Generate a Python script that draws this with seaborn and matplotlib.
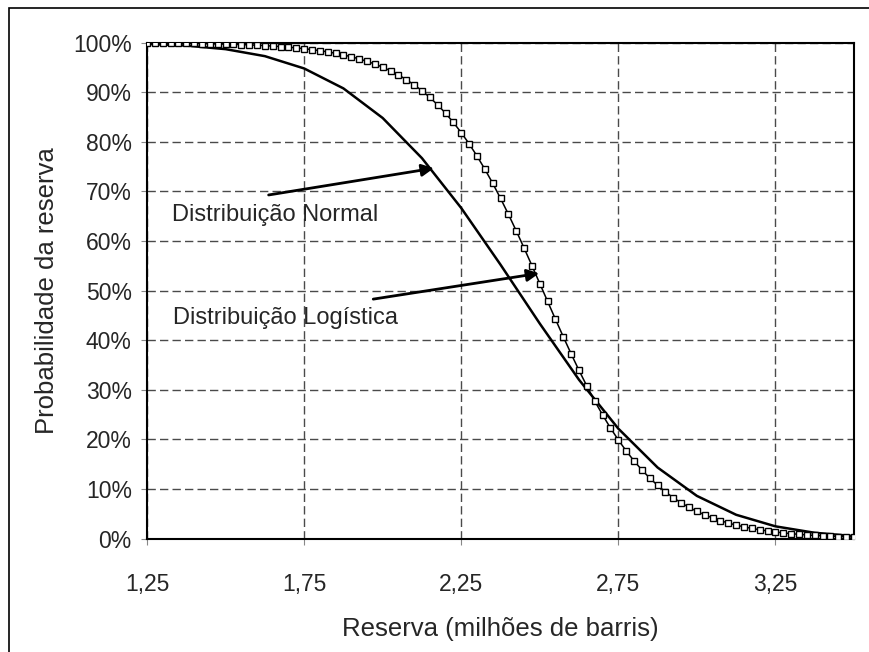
import matplotlib
matplotlib.use("Agg")
import matplotlib.pyplot as plt
import matplotlib.patches as mpatches
import seaborn as sns
import pandas as pd

# =========================
# DADOS
# =========================
# distribuição normal: pontos a cada 0,125
x_normal = [1.25, 1.375, 1.5, 1.625, 1.75, 1.875, 2.0, 2.125, 2.25, 2.375,
            2.5, 2.625, 2.75, 2.875, 3.0, 3.125, 3.25, 3.375, 3.5]
p_normal = [99.76, 99.42, 98.70, 97.29, 94.81, 90.79, 84.82, 76.72, 66.67, 55.25,
            43.37, 32.03, 22.19, 14.35, 8.63, 4.82, 2.49, 1.19, 0.52]

# distribuição logística: pontos a cada 0,025
x_logist = [round(1.25 + 0.025 * i, 3) for i in range(91)]
p_logist = [99.93, 99.92, 99.91, 99.90, 99.88, 99.86, 99.84, 99.82, 99.79, 99.75,
            99.71, 99.67, 99.62, 99.56, 99.49, 99.41, 99.32, 99.22, 99.10, 98.96,
            98.79, 98.61, 98.40, 98.15, 97.87, 97.54, 97.17, 96.74, 96.25, 95.70,
            95.06, 94.34, 93.51, 92.57, 91.51, 90.32, 88.97, 87.46, 85.79, 83.93,
            81.87, 79.63, 77.17, 74.52, 71.67, 68.63, 65.43, 62.08, 58.61, 55.06,
            51.45, 47.83, 44.23, 40.69, 37.24, 33.92, 30.75, 27.75, 24.94, 22.32,
            19.91, 17.70, 15.68, 13.86, 12.22, 10.75, 9.43, 8.26, 7.23, 6.32,
            5.51, 4.80, 4.18, 3.64, 3.16, 2.75, 2.38, 2.07, 1.80, 1.56,
            1.35, 1.17, 1.01, 0.88, 0.76, 0.66, 0.57, 0.49, 0.43, 0.37,
            0.32]

x_ticks = [1.25, 1.75, 2.25, 2.75, 3.25]
x_labels = ["1,25", "1,75", "2,25", "2,75", "3,25"]
y_ticks = list(range(0, 101, 10))
y_labels = [f"{v}%" for v in y_ticks]

# =========================
# GRÁFICO
# =========================
sns.set_style("white")
plt.rcParams["font.family"] = ["Liberation Sans", "DejaVu Sans"]

df_n = pd.DataFrame({"x": x_normal, "p": p_normal})
df_l = pd.DataFrame({"x": x_logist, "p": p_logist})

fig = plt.figure(figsize=(8.69, 6.52), dpi=100)
ax = fig.add_axes([0.1692, 0.1738, 0.8135, 0.7607])

# moldura externa
fig.patches.append(mpatches.Rectangle((9 / 869, -0.05), 1.1, 1 - 8 / 652 + 0.05,
                                      transform=fig.transFigure, fill=False,
                                      edgecolor="black", linewidth=1.2))

sns.lineplot(data=df_l, x="x", y="p", ax=ax, color="black", linewidth=1.1,
             marker="s", markersize=4.8, markerfacecolor="white",
             markeredgecolor="black", markeredgewidth=1.0, zorder=4)
sns.lineplot(data=df_n, x="x", y="p", ax=ax, color="black", linewidth=1.8, zorder=3)

ax.set_xlim(1.25, 3.5)
ax.set_ylim(0, 100)
ax.set_xticks(x_ticks)
ax.set_xticklabels(x_labels)
ax.set_yticks(y_ticks)
ax.set_yticklabels(y_labels)
ax.grid(True, linestyle=(0, (6, 3)), color="#4a4a4a", linewidth=1.0)
ax.tick_params(axis="both", labelsize=16.5, length=4, width=0.8, color="#888888",
               direction="out", bottom=True, left=True)
ax.tick_params(axis="x", pad=21)
ax.tick_params(axis="y", pad=7)

for s in ax.spines.values():
    s.set_color("black")
    s.set_linewidth(1.5)

ax.set_xlabel("Reserva (milhões de barris)", fontsize=18.5, labelpad=15)
ax.set_ylabel("Probabilidade da reserva", fontsize=18.5, labelpad=10)

ap = dict(arrowstyle="-|>", color="black", lw=2, mutation_scale=18, shrinkA=0, shrinkB=0)
ax.annotate("", xy=(2.163, 74.7), xytext=(1.637, 69.3), arrowprops=ap, zorder=5)
ax.annotate("", xy=(2.498, 53.5), xytext=(1.970, 48.3), arrowprops=ap, zorder=5)
ax.text(1.329, 65.3, "Distribuição Normal", fontsize=17, va="center", ha="left")
ax.text(1.332, 44.5, "Distribuição Logística", fontsize=17, va="center", ha="left")

plt.savefig("out.png", dpi=100)
